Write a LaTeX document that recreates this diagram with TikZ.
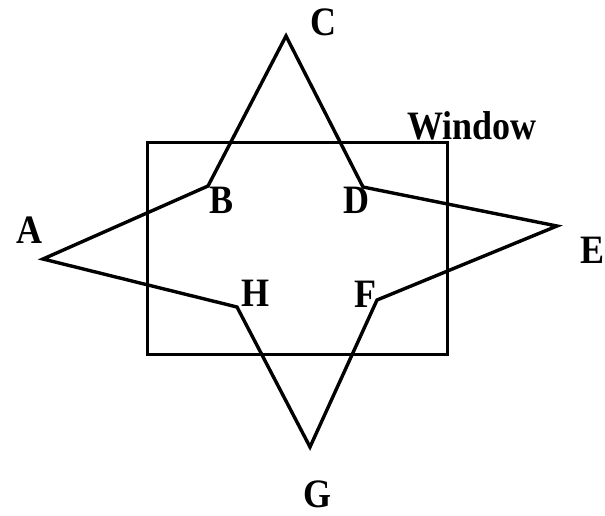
\documentclass[tikz,border=0pt]{standalone}
\usepackage{fontspec}
\setmainfont{Liberation Serif}
\newcommand{\tallbf}[1]{\scalebox{1}[1.12]{#1}}
\begin{document}
\begin{tikzpicture}[x=1pt,y=-1pt,
  edge/.style={line width=3.4pt,line join=miter,line cap=round},
  lbl/.style={font=\fontsize{36}{36}\selectfont\bfseries,inner sep=0pt}]
\useasboundingbox (0,0) rectangle (605,515);
% window
\draw[line width=3pt] (147,142) rectangle (447,354);
% polygon vertices
\coordinate (A) at (43,259);
\coordinate (B) at (208,186);
\coordinate (C) at (286,36);
\coordinate (D) at (363,187);
\coordinate (E) at (557,226);
\coordinate (F) at (377,300);
\coordinate (G) at (310,447);
\coordinate (H) at (237,307);
\draw[edge] (A) -- (B) -- (C) -- (D) -- (E) -- (F) -- (G) -- (H) -- cycle;
% labels
\node[lbl] (lA) at (29,230) {\tallbf{A}};
\node[lbl] (lB) at (222,200) {\tallbf{B}};
\node[lbl] (lC) at (323,22) {\tallbf{C}};
\node[lbl] (lD) at (356,200) {\tallbf{D}};
\node[lbl,anchor=east] (lE) at (604.5,250) {\tallbf{E}};
\node[lbl] (lF) at (365,294) {\tallbf{F}};
\node[lbl] (lG) at (317,494) {\tallbf{G}};
\node[lbl] (lH) at (255,293) {\tallbf{H}};
\node[lbl] (lW) at (472,126) {\tallbf{Window}};
\end{tikzpicture}
\end{document}
